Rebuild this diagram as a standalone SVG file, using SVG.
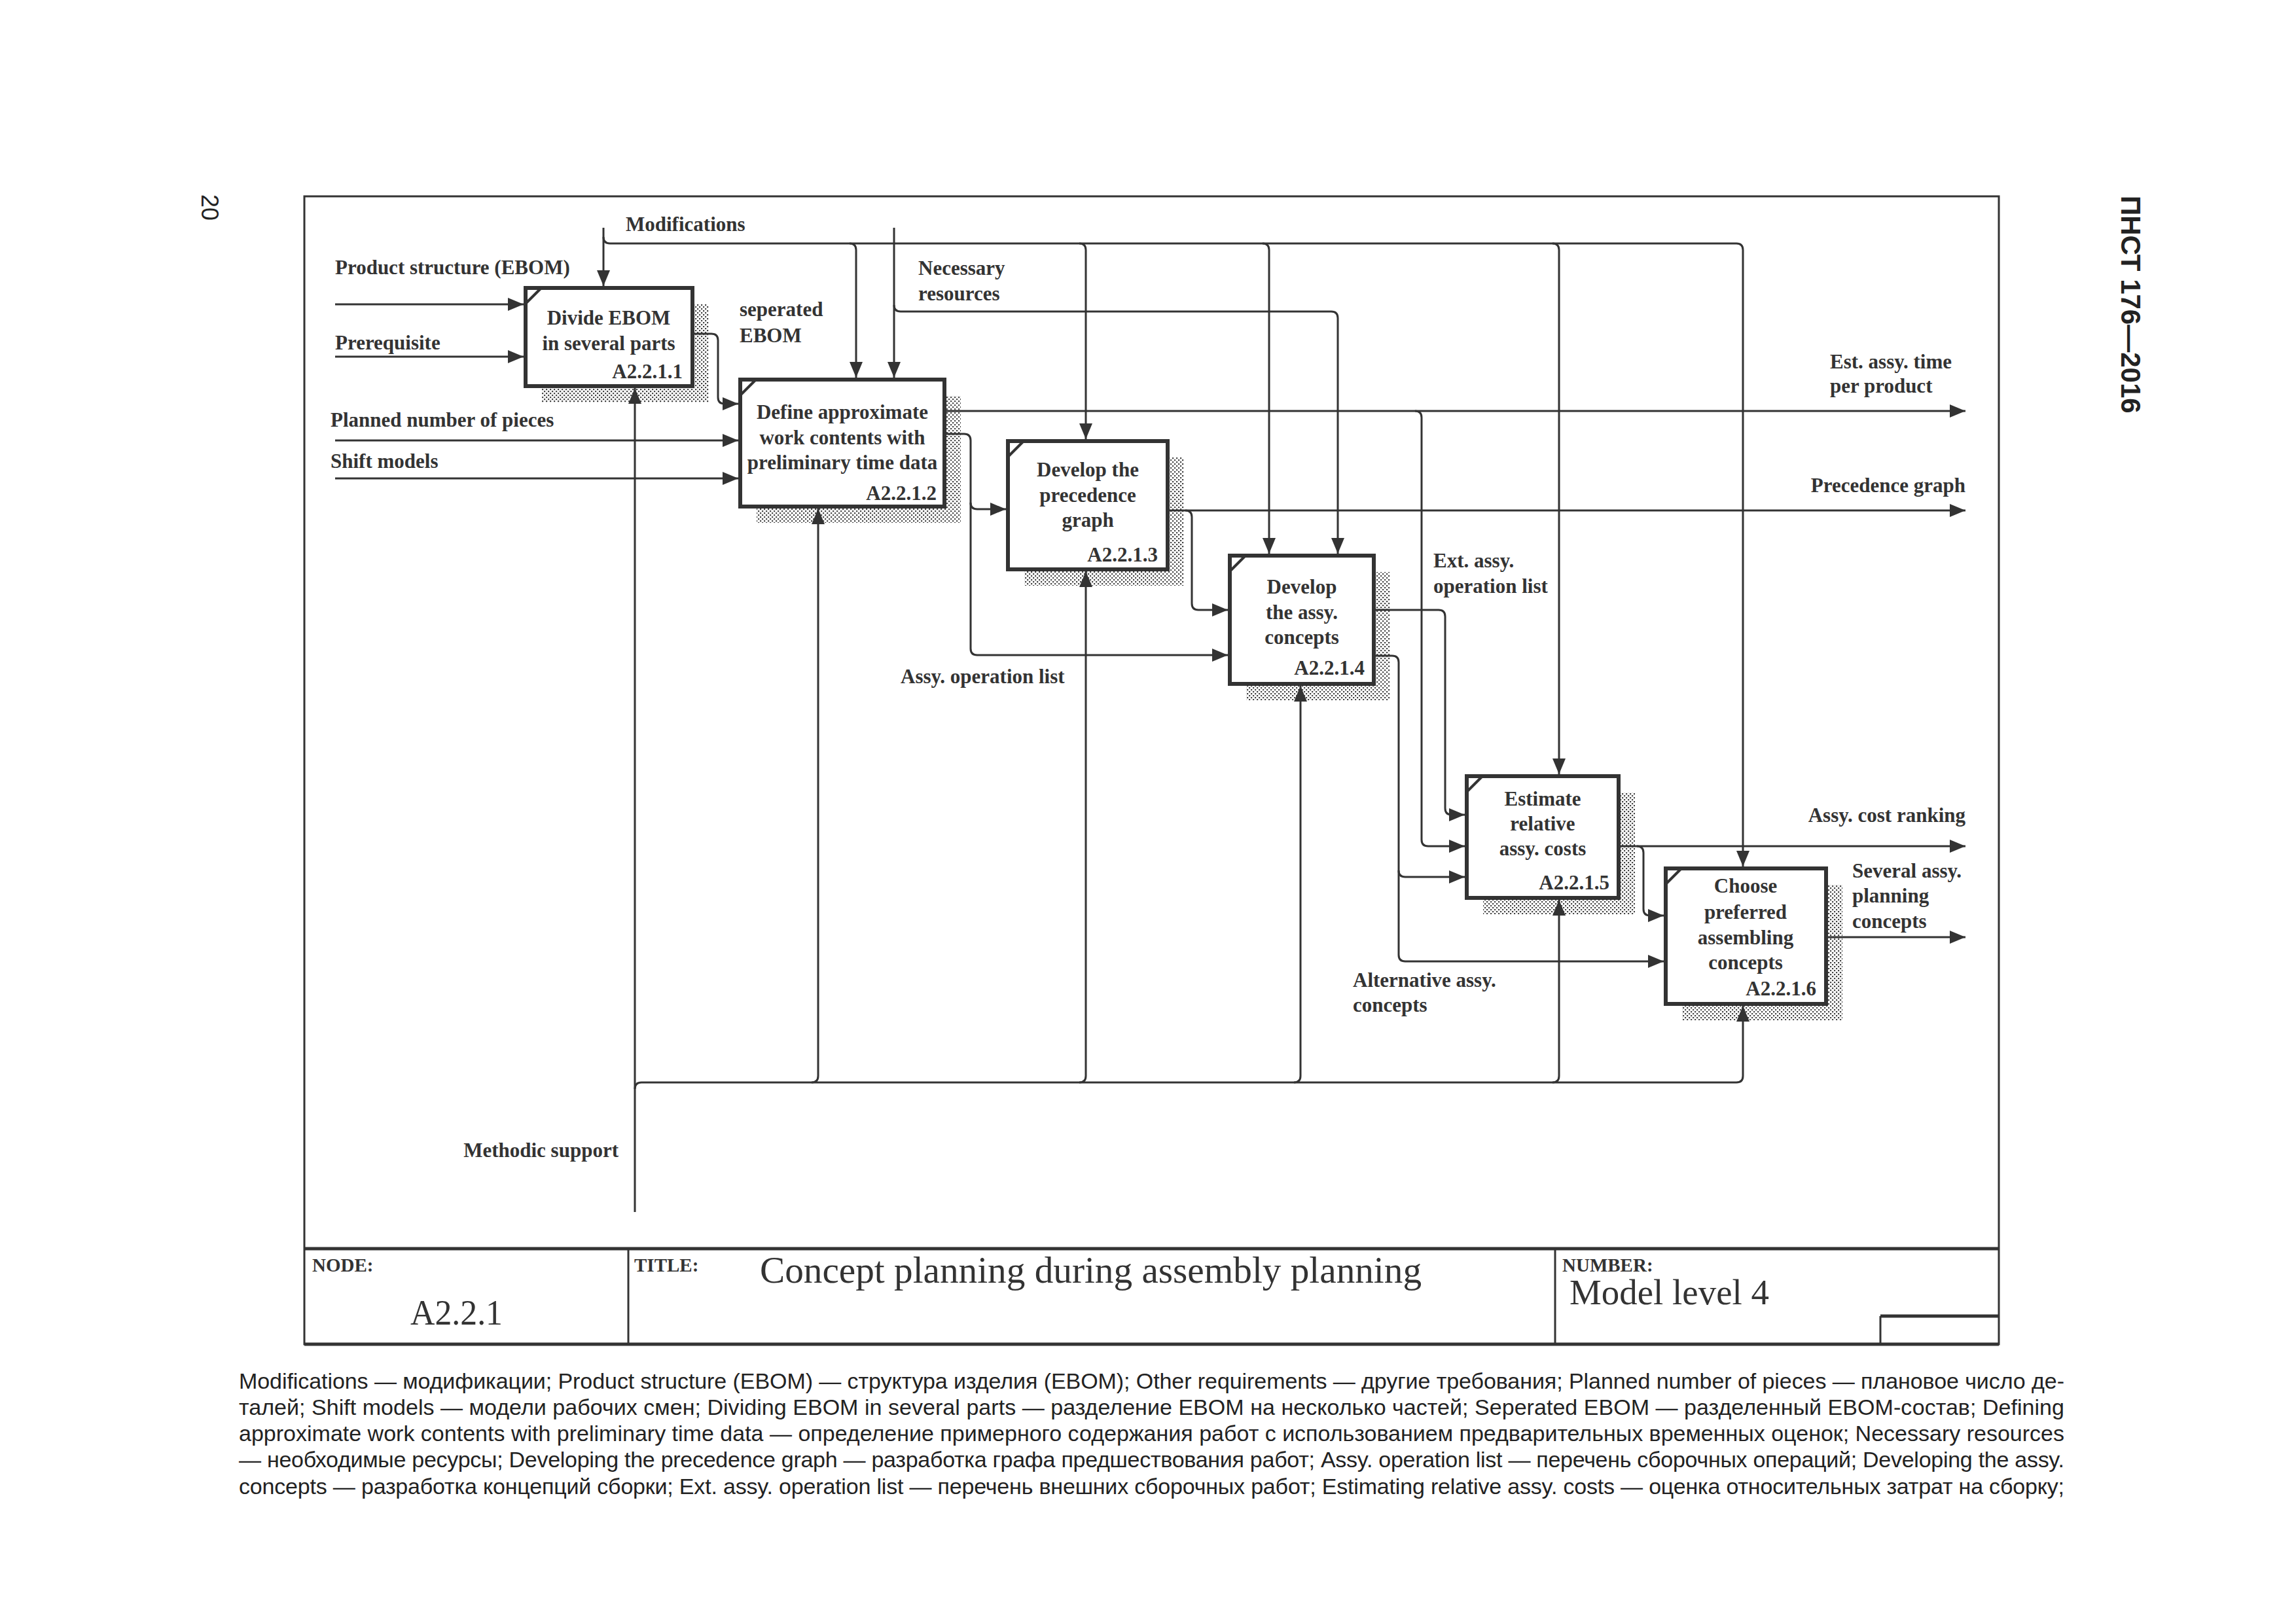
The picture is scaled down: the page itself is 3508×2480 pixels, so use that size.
<svg xmlns="http://www.w3.org/2000/svg" width="3508" height="2480" viewBox="0 0 3508 2480">
<defs>
<pattern id="dots" width="6" height="6" patternUnits="userSpaceOnUse"><rect width="6" height="6" fill="#fff"/><rect x="0" y="0" width="2.2" height="2.2" fill="#444"/><rect x="3" y="3" width="2.2" height="2.2" fill="#444"/></pattern>
<marker id="ah" markerUnits="userSpaceOnUse" markerWidth="24" markerHeight="20" refX="24" refY="10" orient="auto"><path d="M0,0 L24,10 L0,20 z" fill="#333"/></marker>
<style>
.ln{fill:none;stroke:#333;stroke-width:3}
.ar{marker-end:url(#ah)}
.box{fill:#fff;stroke:#333;stroke-width:6}
.tick{stroke:#333;stroke-width:4}
.sh{fill:url(#dots)}
.t{font-family:"Liberation Serif",serif;font-weight:bold;font-size:31px;fill:#333}
.bt{text-anchor:middle}
.id{text-anchor:end}
.fr{fill:none;stroke:#333;stroke-width:3}
.frt{fill:none;stroke:#333;stroke-width:5}
.tb{font-family:"Liberation Serif",serif;fill:#333}
.fn{font-family:"Liberation Sans",Arial,sans-serif;font-size:34px;fill:#222}
.hd{font-family:"Liberation Sans",Arial,sans-serif;fill:#222}
</style>
</defs>
<rect width="3508" height="2480" fill="#fff"/>

<!-- page header -->
<text class="hd" font-size="36" transform="translate(308,297) rotate(90)">20</text>
<text class="hd" font-size="42" font-weight="bold" transform="translate(3241,299) rotate(90)">ПНСТ 176—2016</text>

<!-- frame and title block -->
<g id="frame">
<rect class="fr" x="465" y="300" width="2589" height="1754"/>
<line class="frt" x1="465" y1="1908" x2="3054" y2="1908"/>
<line class="frt" x1="465" y1="2054" x2="3054" y2="2054"/>
<line class="fr" x1="960" y1="1908" x2="960" y2="2054"/>
<line class="fr" x1="2376" y1="1908" x2="2376" y2="2054"/>
<line class="frt" x1="2873" y1="2011" x2="3054" y2="2011"/>
<line class="fr" x1="2873" y1="2011" x2="2873" y2="2054"/>
<text class="tb" x="477" y="1943" font-size="29" font-weight="bold">NODE:</text>
<text class="tb" x="627" y="2024" font-size="54" textLength="141" lengthAdjust="spacingAndGlyphs">A2.2.1</text>
<text class="tb" x="969" y="1943" font-size="29" font-weight="bold">TITLE:</text>
<text class="tb" x="1161" y="1960" font-size="56" textLength="1011" lengthAdjust="spacingAndGlyphs">Concept planning during assembly planning</text>
<text class="tb" x="2387" y="1943" font-size="29" font-weight="bold">NUMBER:</text>
<text class="tb" x="2398" y="1993" font-size="54" textLength="305" lengthAdjust="spacingAndGlyphs">Model level 4</text>
</g>

<!-- nodes -->
<g id="A2.2.1.1">
<rect class="sh" x="828" y="465" width="255" height="150"/>
<rect class="box" x="803" y="440" width="255" height="150"/>
<line class="tick" x1="803" y1="464" x2="827" y2="440"/>
<text class="t bt" x="930" y="496">Divide EBOM</text>
<text class="t bt" x="930" y="535">in several parts</text>
<text class="t id" x="1043" y="578">A2.2.1.1</text>
</g>
<g id="A2.2.1.2">
<rect class="sh" x="1156" y="605" width="312" height="194"/>
<rect class="box" x="1131" y="580" width="312" height="194"/>
<line class="tick" x1="1131" y1="604" x2="1155" y2="580"/>
<text class="t bt" x="1287" y="640">Define approximate</text>
<text class="t bt" x="1287" y="679">work contents with</text>
<text class="t bt" x="1287" y="717">preliminary time data</text>
<text class="t id" x="1431" y="764">A2.2.1.2</text>
</g>
<g id="A2.2.1.3">
<rect class="sh" x="1565" y="699" width="244" height="196"/>
<rect class="box" x="1540" y="674" width="244" height="196"/>
<line class="tick" x1="1540" y1="698" x2="1564" y2="674"/>
<text class="t bt" x="1662" y="728">Develop the</text>
<text class="t bt" x="1662" y="767">precedence</text>
<text class="t bt" x="1662" y="805">graph</text>
<text class="t id" x="1769" y="858">A2.2.1.3</text>
</g>
<g id="A2.2.1.4">
<rect class="sh" x="1904" y="874" width="220" height="196"/>
<rect class="box" x="1879" y="849" width="220" height="196"/>
<line class="tick" x1="1879" y1="873" x2="1903" y2="849"/>
<text class="t bt" x="1989" y="907">Develop</text>
<text class="t bt" x="1989" y="946">the assy.</text>
<text class="t bt" x="1989" y="984">concepts</text>
<text class="t id" x="2085" y="1031">A2.2.1.4</text>
</g>
<g id="A2.2.1.5">
<rect class="sh" x="2266" y="1211" width="232" height="186"/>
<rect class="box" x="2241" y="1186" width="232" height="186"/>
<line class="tick" x1="2241" y1="1210" x2="2265" y2="1186"/>
<text class="t bt" x="2357" y="1231">Estimate</text>
<text class="t bt" x="2357" y="1269">relative</text>
<text class="t bt" x="2357" y="1307">assy. costs</text>
<text class="t id" x="2459" y="1359">A2.2.1.5</text>
</g>
<g id="A2.2.1.6">
<rect class="sh" x="2570" y="1352" width="245" height="207"/>
<rect class="box" x="2545" y="1327" width="245" height="207"/>
<line class="tick" x1="2545" y1="1351" x2="2569" y2="1327"/>
<text class="t bt" x="2667" y="1364">Choose</text>
<text class="t bt" x="2667" y="1404">preferred</text>
<text class="t bt" x="2667" y="1443">assembling</text>
<text class="t bt" x="2667" y="1481">concepts</text>
<text class="t id" x="2775" y="1521">A2.2.1.6</text>
</g>

<!-- connectors -->
<g id="connectors">
<!-- Modifications (control) -->
<path class="ln ar" d="M922,348 V437"/>
<path class="ln ar" d="M922,362 Q922,372 932,372 H2653 Q2663,372 2663,382 V1324"/>
<path class="ln ar" d="M1298,372 Q1308,372 1308,382 V577"/>
<path class="ln ar" d="M1649,372 Q1659,372 1659,382 V671"/>
<path class="ln ar" d="M1929,372 Q1939,372 1939,382 V846"/>
<path class="ln ar" d="M2372,372 Q2382,372 2382,382 V1183"/>
<!-- Necessary resources -->
<path class="ln ar" d="M1366,348 V577"/>
<path class="ln ar" d="M1366,466 Q1366,476 1376,476 H2034 Q2044,476 2044,486 V846"/>
<!-- inputs -->
<path class="ln ar" d="M512,465 H800"/>
<path class="ln ar" d="M512,545 H800"/>
<path class="ln ar" d="M512,673 H1128"/>
<path class="ln ar" d="M512,731 H1128"/>
<!-- seperated EBOM -->
<path class="ln ar" d="M1058,510 H1087 Q1097,510 1097,520 V607 Q1097,617 1107,617 H1128"/>
<!-- Est. assy. time -->
<path class="ln ar" d="M1443,628 H3003"/>
<path class="ln ar" d="M2162,628 Q2172,628 2172,638 V1283 Q2172,1293 2182,1293 H2238"/>
<!-- Assy. operation list -->
<path class="ln ar" d="M1443,663 H1473 Q1483,663 1483,673 V991 Q1483,1001 1493,1001 H1876"/>
<path class="ln ar" d="M1483,768 Q1483,778 1493,778 H1537"/>
<!-- Precedence graph -->
<path class="ln ar" d="M1784,780 H3003"/>
<path class="ln ar" d="M1811,780 Q1821,780 1821,790 V922 Q1821,932 1831,932 H1876"/>
<!-- Ext. assy. operation list -->
<path class="ln ar" d="M2099,932 H2198 Q2208,932 2208,942 V1235 Q2208,1245 2218,1245 H2238"/>
<!-- Alternative assy. concepts -->
<path class="ln ar" d="M2099,1002 H2127 Q2137,1002 2137,1012 V1459 Q2137,1469 2147,1469 H2542"/>
<path class="ln ar" d="M2137,1330 Q2137,1340 2147,1340 H2238"/>
<!-- Assy. cost ranking -->
<path class="ln ar" d="M2473,1293 H3003"/>
<path class="ln ar" d="M2501,1293 Q2511,1293 2511,1303 V1389 Q2511,1399 2521,1399 H2542"/>
<!-- Several assy. planning concepts -->
<path class="ln ar" d="M2790,1432 H3003"/>
<!-- Methodic support (mechanism) -->
<path class="ln ar" d="M970,1852 V593"/>
<path class="ln ar" d="M970,1664 Q970,1654 980,1654 H2653 Q2663,1654 2663,1644 V1537"/>
<path class="ln ar" d="M1240,1654 Q1250,1654 1250,1644 V777"/>
<path class="ln ar" d="M1649,1654 Q1659,1654 1659,1644 V873"/>
<path class="ln ar" d="M1977,1654 Q1987,1654 1987,1644 V1048"/>
<path class="ln ar" d="M2372,1654 Q2382,1654 2382,1644 V1375"/>
</g>

<!-- arrow labels -->
<g id="labels">
<text class="t" x="956" y="353">Modifications</text>
<text class="t" x="512" y="419">Product structure (EBOM)</text>
<text class="t" x="512" y="534">Prerequisite</text>
<text class="t" x="505" y="652">Planned number of pieces</text>
<text class="t" x="505" y="715">Shift models</text>
<text class="t" x="1130" y="483">seperated</text>
<text class="t" x="1130" y="523">EBOM</text>
<text class="t" x="1403" y="420">Necessary</text>
<text class="t" x="1403" y="459">resources</text>
<text class="t" x="2796" y="563">Est. assy. time</text>
<text class="t" x="2796" y="600">per product</text>
<text class="t id" x="3003" y="752">Precedence graph</text>
<text class="t" x="2190" y="867">Ext. assy.</text>
<text class="t" x="2190" y="906">operation list</text>
<text class="t" x="1376" y="1044">Assy. operation list</text>
<text class="t id" x="3003" y="1256">Assy. cost ranking</text>
<text class="t" x="2830" y="1341">Several assy.</text>
<text class="t" x="2830" y="1379">planning</text>
<text class="t" x="2830" y="1418">concepts</text>
<text class="t" x="2067" y="1508">Alternative assy.</text>
<text class="t" x="2067" y="1546">concepts</text>
<text class="t id" x="945" y="1768">Methodic support</text>
</g>

<!-- footnote -->
<g id="footnote">
<text class="fn" x="365" y="2122" textLength="2789" lengthAdjust="spacing">Modifications — модификации; Product structure (EBOM) — структура изделия (EBOM); Other requirements — другие требования; Planned number of pieces — плановое число де-</text>
<text class="fn" x="365" y="2162" textLength="2789" lengthAdjust="spacing">талей; Shift models — модели рабочих смен; Dividing EBOM in several parts — разделение EBOM на несколько частей; Seperated EBOM — разделенный EBOM-состав; Defining</text>
<text class="fn" x="365" y="2202" textLength="2789" lengthAdjust="spacing">approximate work contents with preliminary time data — определение примерного содержания работ с использованием предварительных временных оценок; Necessary resources</text>
<text class="fn" x="365" y="2242" textLength="2789" lengthAdjust="spacing">— необходимые ресурсы; Developing the precedence graph — разработка графа предшествования работ; Assy. operation list — перечень сборочных операций; Developing the assy.</text>
<text class="fn" x="365" y="2283" textLength="2789" lengthAdjust="spacing">concepts — разработка концепций сборки; Ext. assy. operation list — перечень внешних сборочных работ; Estimating relative assy. costs — оценка относительных затрат на сборку;</text>
</g>
</svg>
